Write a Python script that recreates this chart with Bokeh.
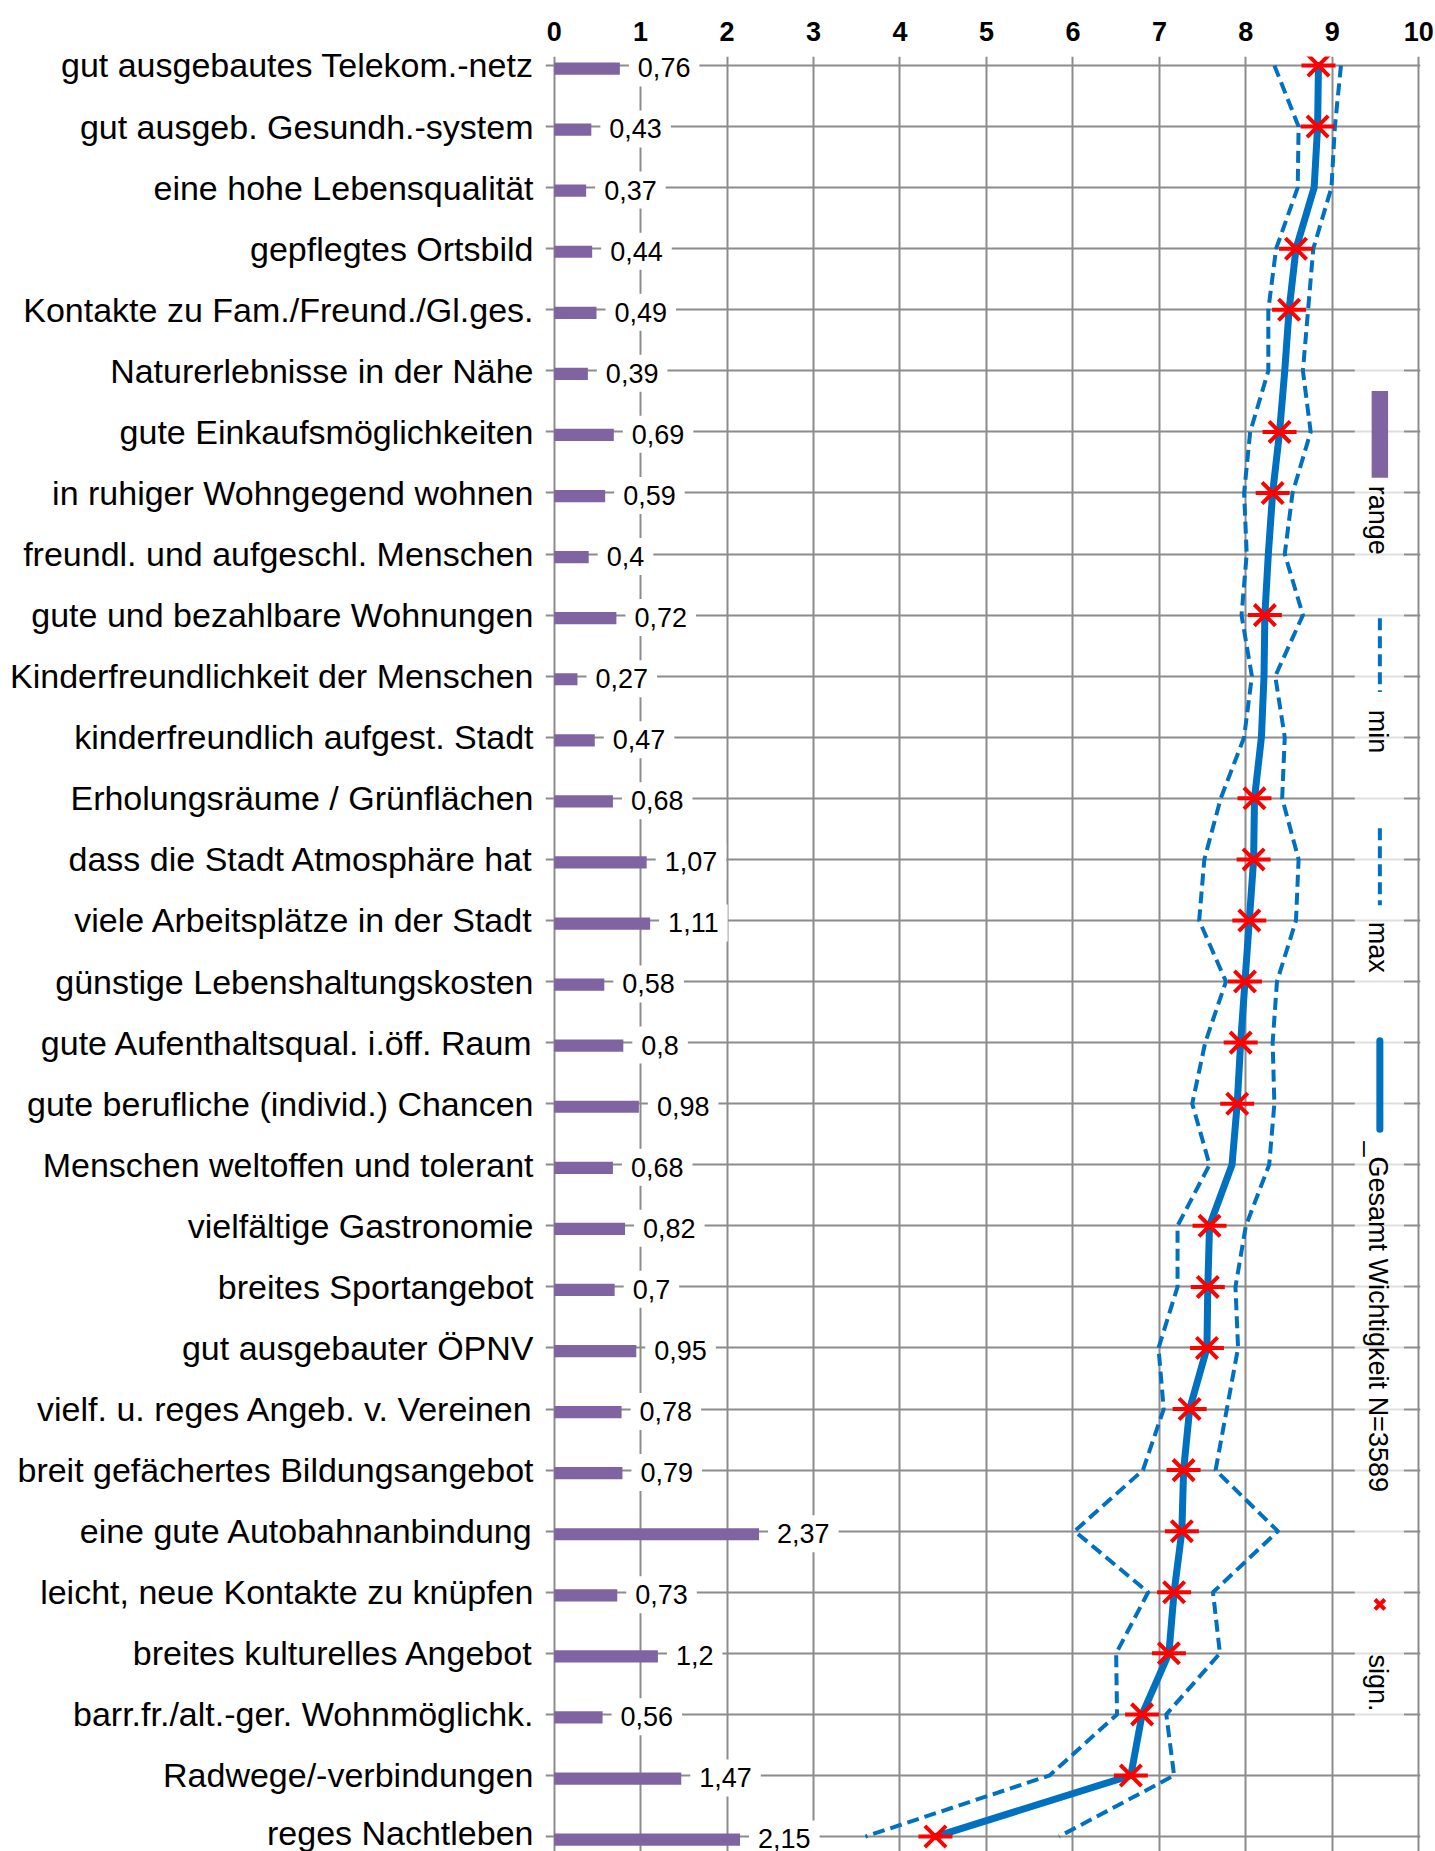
import math
from bokeh.plotting import figure
from bokeh.models import Range1d, FixedTicker, ColumnDataSource, Label
from bokeh.core.properties import value
from bokeh.embed import file_html
from bokeh.resources import INLINE

categories = [
    "gut ausgebautes Telekom.-netz",
    "gut ausgeb. Gesundh.-system",
    "eine hohe Lebensqualität",
    "gepflegtes Ortsbild",
    "Kontakte zu Fam./Freund./Gl.ges.",
    "Naturerlebnisse in der Nähe",
    "gute Einkaufsmöglichkeiten",
    "in ruhiger Wohngegend wohnen",
    "freundl. und aufgeschl. Menschen",
    "gute und bezahlbare Wohnungen",
    "Kinderfreundlichkeit der Menschen",
    "kinderfreundlich aufgest. Stadt",
    "Erholungsräume / Grünflächen",
    "dass die Stadt Atmosphäre hat",
    "viele Arbeitsplätze in der Stadt",
    "günstige Lebenshaltungskosten",
    "gute Aufenthaltsqual. i.öff. Raum",
    "gute berufliche (individ.) Chancen",
    "Menschen weltoffen und tolerant",
    "vielfältige Gastronomie",
    "breites Sportangebot",
    "gut ausgebauter ÖPNV",
    "vielf. u. reges Angeb. v. Vereinen",
    "breit gefächertes Bildungsangebot",
    "eine gute Autobahnanbindung",
    "leicht, neue Kontakte zu knüpfen",
    "breites kulturelles Angebot",
    "barr.fr./alt.-ger. Wohnmöglichk.",
    "Radwege/-verbindungen",
    "reges Nachtleben",
]

range_vals = [0.76, 0.43, 0.37, 0.44, 0.49, 0.39, 0.69, 0.59, 0.40, 0.72,
              0.27, 0.47, 0.68, 1.07, 1.11, 0.58, 0.80, 0.98, 0.68, 0.82,
              0.70, 0.95, 0.78, 0.79, 2.37, 0.73, 1.20, 0.56, 1.47, 2.15]

mean_vals = [8.84, 8.83, 8.79, 8.58, 8.50, 8.45, 8.39, 8.31, 8.26, 8.22,
             8.21, 8.18, 8.10, 8.09, 8.04, 7.99, 7.94, 7.90, 7.84, 7.58,
             7.56, 7.55, 7.35, 7.28, 7.26, 7.17, 7.11, 6.80, 6.67, 4.41]

min_vals = [8.33, 8.61, 8.60, 8.35, 8.26, 8.26, 8.05, 7.98, 8.01, 7.95,
            8.07, 7.98, 7.71, 7.52, 7.46, 7.77, 7.53, 7.38, 7.58, 7.21,
            7.21, 6.99, 7.05, 6.81, 6.02, 6.87, 6.50, 6.51, 5.73, 3.60]

max_vals = [9.10, 9.03, 8.99, 8.78, 8.72, 8.66, 8.75, 8.54, 8.45, 8.66,
            8.34, 8.45, 8.42, 8.61, 8.58, 8.36, 8.31, 8.33, 8.27, 8.00,
            7.88, 7.91, 7.78, 7.65, 8.37, 7.62, 7.70, 7.08, 7.17, 5.84]

significant = [1, 1, 0, 1, 1, 0, 1, 1, 0, 1,
               0, 0, 1, 1, 1, 1, 1, 1, 0, 1,
               1, 1, 1, 1, 1, 1, 1, 1, 1, 1]

x_ticks = [0, 1, 2, 3, 4, 5, 6, 7, 8, 9, 10]

legend_names = ["range", "min", "max", "_Gesamt Wichtigkeit N=3589", "sign."]

FONT = "Liberation Sans"
GRID = "#8c8c8c"
BLUE = "#0070C0"
PURPLE = "#8064A2"
RED = "#FF0000"

n = len(categories)
rows = list(range(n))
labels = [str(v).replace(".", ",") for v in range_vals]

src = ColumnDataSource(dict(
    y=rows,
    ybar=[r + 0.05 for r in rows],
    ylab=[r + 0.04 for r in rows],
    rng=range_vals,
    lbl=labels,
    mean=mean_vals,
    mn=min_vals,
    mx=max_vals,
))
sig_idx = [i for i in rows if significant[i]]
sig_src = ColumnDataSource(dict(
    x=[mean_vals[i] for i in sig_idx],
    y=[rows[i] for i in sig_idx],
))

p = figure(
    x_range=Range1d(-0.1, 10.02),
    y_range=Range1d(29.245, -0.147),
    frame_width=875, frame_height=1795,
    min_border_left=545, min_border_right=15,
    min_border_top=56, min_border_bottom=0,
    x_axis_location="above",
    output_backend="svg", toolbar_location=None,
)
p.outline_line_color = None
p.background_fill_color = "white"

# x axis (top)
xa = p.xaxis[0]
xa.ticker = FixedTicker(ticks=x_ticks)
xa.axis_line_color = None
xa.major_tick_line_color = None
xa.minor_tick_line_color = None
xa.major_tick_out = 0
xa.major_tick_in = 0
xa.major_label_standoff = 16
xa.major_label_text_font = FONT
xa.major_label_text_font_style = "bold"
xa.major_label_text_font_size = "27px"
xa.major_label_text_color = "black"

# y axis (left) with category names
ya = p.yaxis[0]
ya.ticker = FixedTicker(ticks=rows)
ya.major_label_overrides = {i: c for i, c in zip(rows, categories)}
ya.axis_line_color = None
ya.major_tick_line_color = None
ya.minor_tick_line_color = None
ya.major_tick_out = 0
ya.major_tick_in = 0
ya.major_label_standoff = 12
ya.major_label_text_font = FONT
ya.major_label_text_font_size = "34px"
ya.major_label_text_color = "black"

p.xgrid.ticker = FixedTicker(ticks=x_ticks)
p.ygrid.ticker = FixedTicker(ticks=rows)
for g in (p.xgrid[0], p.ygrid[0]):
    g.grid_line_color = GRID
    g.grid_line_width = 2

# legend background (semi-transparent, inside the plot)
LX0, LX1, LXC = 9.26, 9.83, 9.55
p.quad(left=LX0, right=LX1, top=4.4, bottom=27.6,
       fill_color="white", fill_alpha=0.72, line_color=None)

# range bars
p.hbar(y="ybar", left=0, right="rng", height=0.2, source=src,
       fill_color=PURPLE, line_color=None)

# value labels with white boxes
p.text(x="rng", y="ylab", text="lbl", source=src, x_offset=9,
       text_align="left", text_baseline="middle",
       text_font=value(FONT), text_font_size="27px", text_color="black",
       background_fill_color="white", padding=9)

# min / max dashed lines
p.line(x="mn", y="y", source=src, line_color=BLUE, line_width=4,
       line_dash="12 6", line_join="round")
p.line(x="mx", y="y", source=src, line_color=BLUE, line_width=4,
       line_dash="12 6", line_join="round")

# mean line
p.line(x="mean", y="y", source=src, line_color=BLUE, line_width=7,
       line_join="round", line_cap="round")

# significance markers (asterisk-like: x + dash)
p.scatter(x="x", y="y", source=sig_src, marker="x", size=30,
          line_color=RED, line_width=4)
p.scatter(x="x", y="y", source=sig_src, marker="dash", size=34,
          line_color=RED, line_width=4)

# custom vertical legend
p.quad(left=LXC - 0.095, right=LXC + 0.095, top=5.33, bottom=6.75,
       fill_color=PURPLE, line_color=None)
p.line(x=[LXC, LXC], y=[9.05, 10.26], line_color=BLUE, line_width=4,
       line_dash="12 6")
p.line(x=[LXC, LXC], y=[12.49, 13.75], line_color=BLUE, line_width=4,
       line_dash="12 6")
p.line(x=[LXC, LXC], y=[15.97, 17.42], line_color=BLUE, line_width=7,
       line_cap="round")
p.scatter(x=[LXC], y=[25.2], marker="x", size=14, line_color=RED,
          line_width=4)

legend_rows = [6.88, 10.55, 14.02, 17.62, 26.02]
for name, ry in zip(legend_names, legend_rows):
    p.add_layout(Label(x=LXC - 0.02, y=ry, text=name, angle=-math.pi / 2,
                       text_align="left", text_baseline="middle",
                       text_font=FONT, text_font_size="27px",
                       text_color="black"))

open("out.html", "w").write(file_html(p, INLINE))
